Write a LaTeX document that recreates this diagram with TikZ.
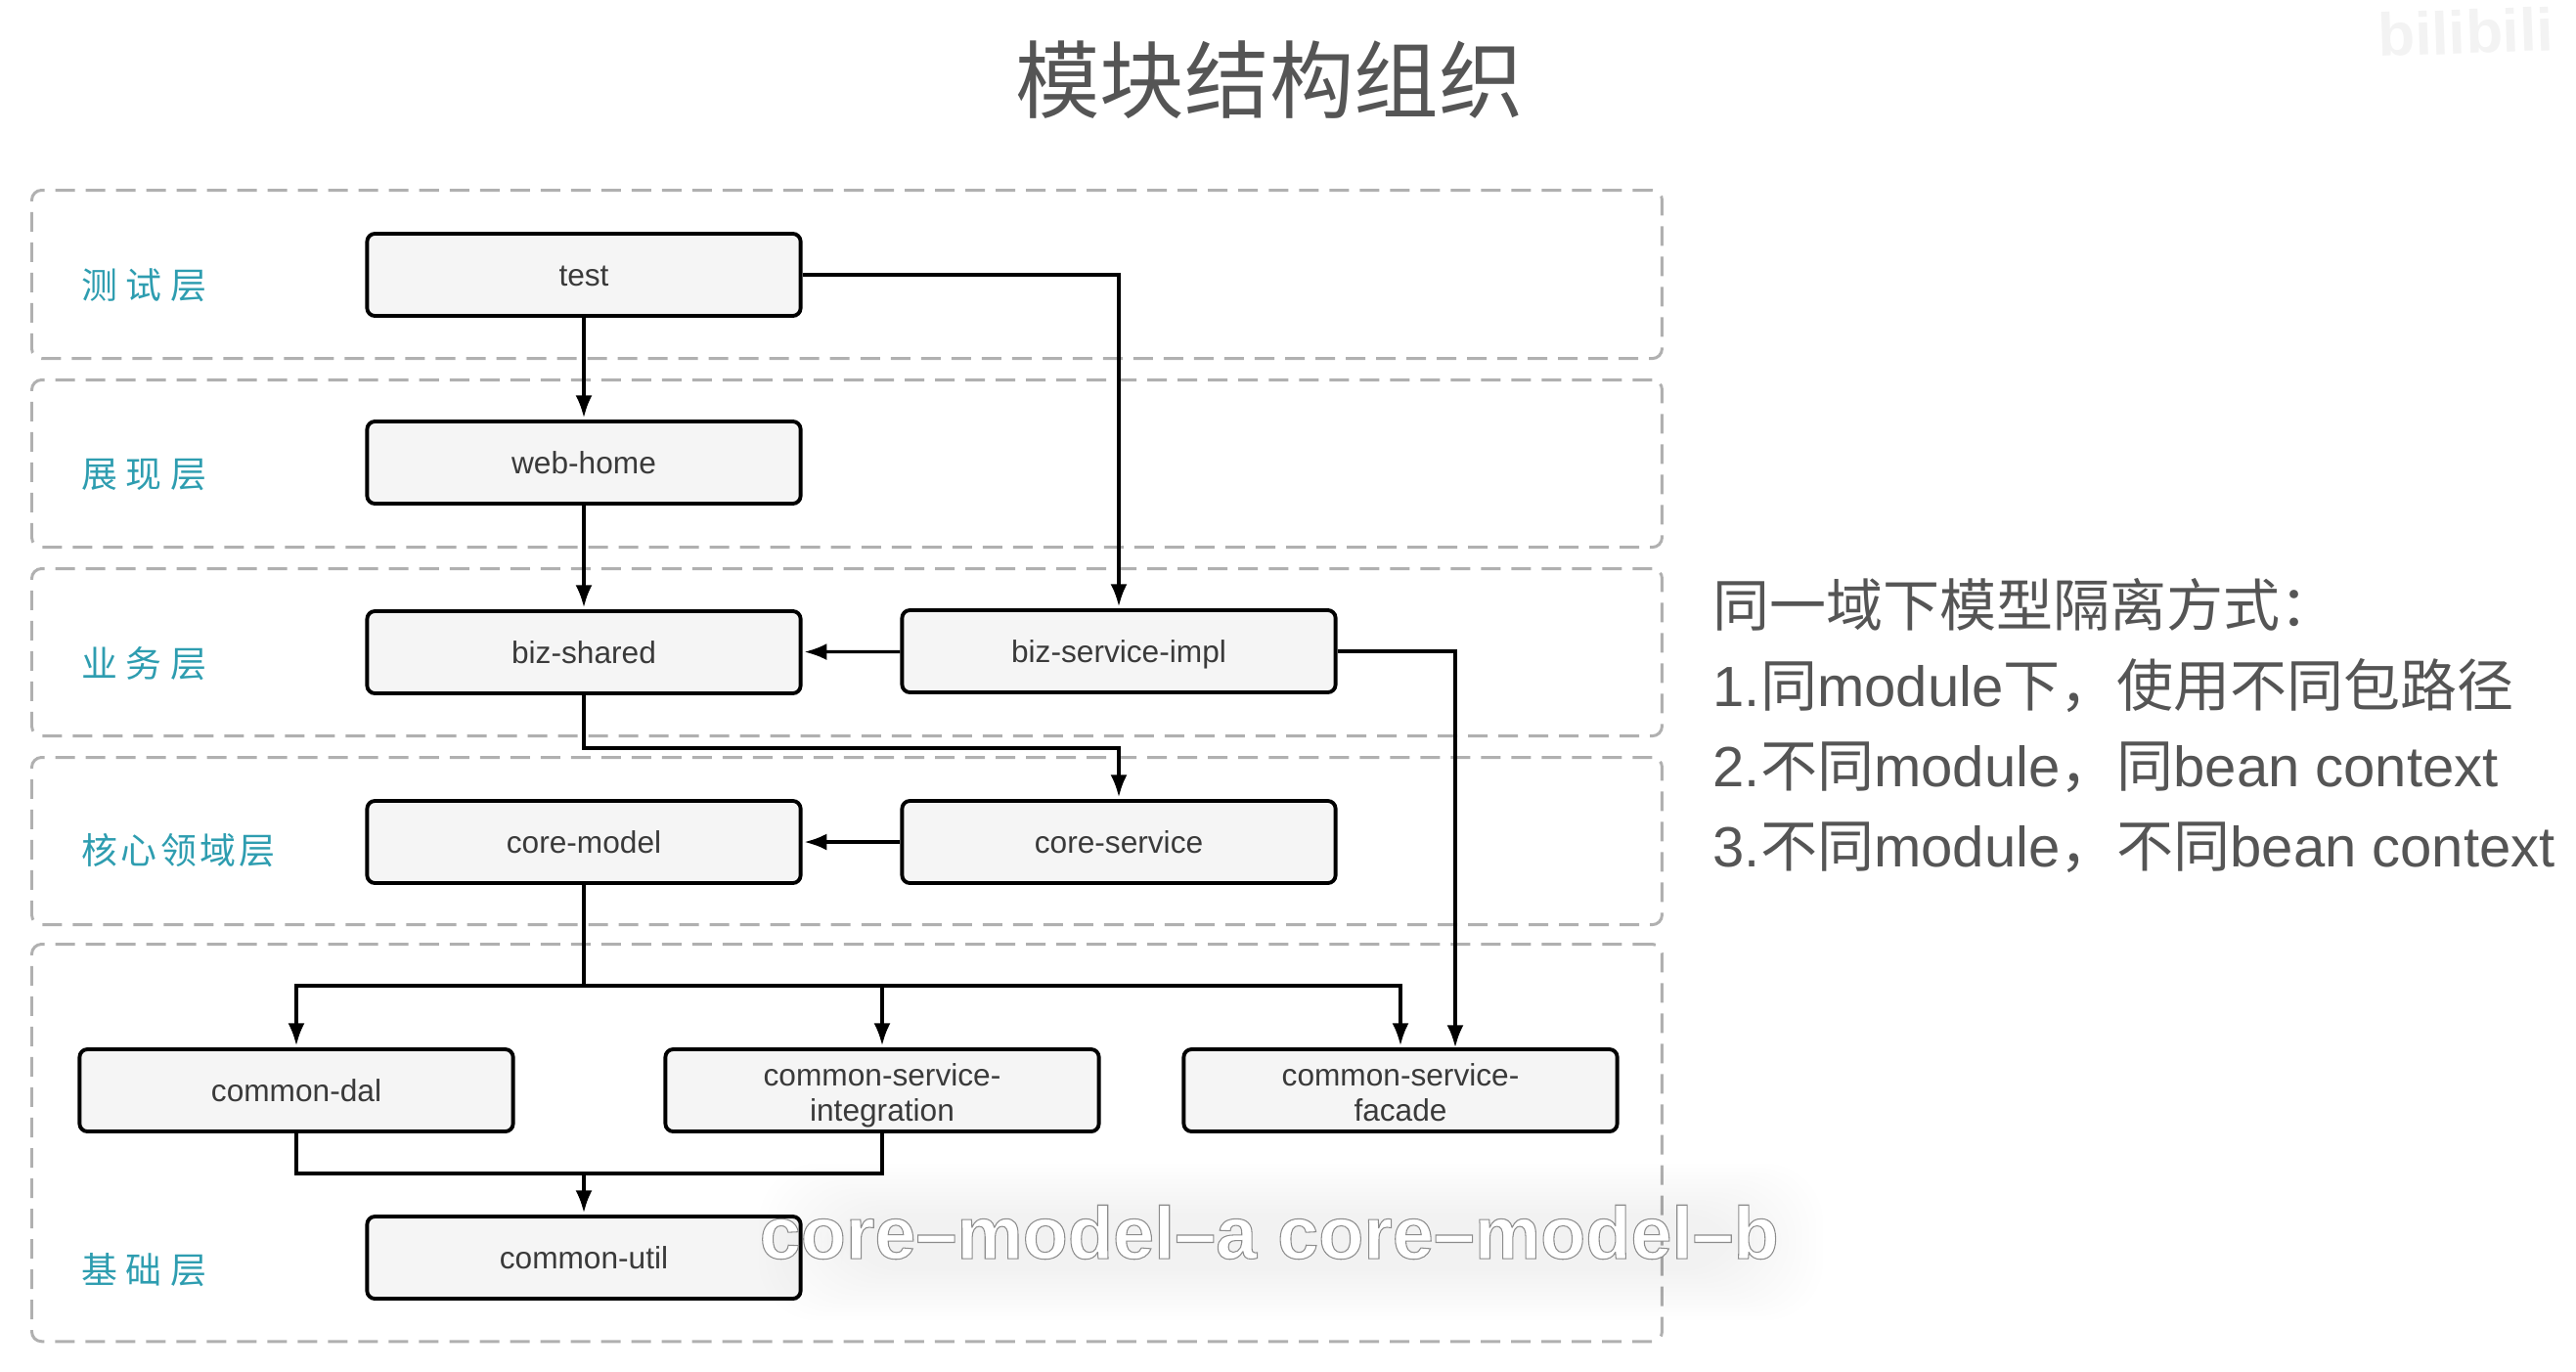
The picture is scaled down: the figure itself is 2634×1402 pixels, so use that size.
\documentclass[tikz,border=0pt]{standalone}
\usepackage{fontspec}
\setmainfont{Liberation Sans}
\newfontfamily\cjk{Noto Sans CJK SC}
\newfontfamily\cjktight[LetterSpace=9]{Noto Sans CJK SC}
\usetikzlibrary{arrows.meta}
\definecolor{layergray}{HTML}{B0B0B0}
\definecolor{layerteal}{HTML}{2E9DB0}
\definecolor{boxfill}{HTML}{F5F5F5}
\definecolor{boxtext}{HTML}{3A3A3A}
\definecolor{slidetext}{HTML}{555555}
\definecolor{markgray}{HTML}{F3F3F3}
\tikzset{
	layerbox/.style={draw=layergray, line width=0.85pt, dash pattern=on 0.2cm off 0.11cm, rounded corners=0.1cm, anchor=north west, inner sep=0pt},
	layername/.style={anchor=west, inner sep=0pt, text=layerteal, font=\cjk\fontsize{10.5}{12}\selectfont},
	modbox/.style={draw=black, line width=1.1pt, fill=boxfill, rounded corners=0.08cm, minimum width=4.43cm, minimum height=0.84cm, inner sep=0pt, text=boxtext, font=\fontsize{9}{10.2}\selectfont},
	modline/.style={modbox, text height=7.5pt, text depth=1pt},
	modpair/.style={modbox, align=center},
	link/.style={draw=black, line width=0.95pt},
	linkto/.style={link, -{Latex[length=0.23cm,width=0.17cm]}, shorten >=0.5pt}
}
\newcommand{\hollowtext}[1]{\special{pdf: code q 2 Tr 0.3 w 0.55 G}#1\special{pdf: code Q}}
\newcommand{\toprow}{\rule{0pt}{9.5pt}}
\newcommand{\lowrow}{\rule[-2pt]{0pt}{0pt}}

\begin{document}
\begin{tikzpicture}[x=0.01cm, y=-0.01cm]
	\useasboundingbox (0,0) rectangle (2634,1402);

	% watermark
	\node[anchor=base west, inner sep=0pt, rotate=2, text=markgray, font=\bfseries\fontsize{17.6}{21}\selectfont] (mark) at (2432,58) {bilibili};

	% title
	\node[inner sep=0pt, text=slidetext, font=\cjk\fontsize{24.6}{28}\selectfont] (title) at (1298,82) {模块结构组织};

	% layers
	\node[layerbox, minimum width=16.66cm, minimum height=1.72cm] (testlayer) at (31,193) {};
	\node[layerbox, minimum width=16.66cm, minimum height=1.71cm] (weblayer) at (31,387) {};
	\node[layerbox, minimum width=16.66cm, minimum height=1.71cm] (bizlayer) at (31,580) {};
	\node[layerbox, minimum width=16.66cm, minimum height=1.71cm] (corelayer) at (31,773) {};
	\node[layerbox, minimum width=16.66cm, minimum height=4.06cm] (baselayer) at (31,964) {};

	\node[layername] (testname) at (83,292) {测 试 层};
	\node[layername] (webname) at (83,486) {展 现 层};
	\node[layername] (bizname) at (83,679) {业 务 层};
	\node[layername, font=\cjktight\fontsize{10.5}{12}\selectfont] (corename) at (83,870) {核心领域层};
	\node[layername] (basename) at (83,1299) {基 础 层};

	% modules
	\node[modline] (test) at (597,281) {test};
	\node[modline] (webhome) at (597,473) {web-home};
	\node[modline] (bizshared) at (597,667) {biz-shared};
	\node[modline] (bizimpl) at (1144,666) {biz-service-impl};
	\node[modline] (coremodel) at (597,861) {core-model};
	\node[modline] (coreservice) at (1144,861) {core-service};
	\node[modline] (commondal) at (303,1115) {common-dal};
	\node[modpair] (commonint) at (902,1115) {\toprow common-service-\\integration\lowrow};
	\node[modpair] (commonfacade) at (1432,1115) {\toprow common-service-\\facade\lowrow};
	\node[modline] (commonutil) at (597,1286) {common-util};

	\coordinate (bizturn) at (597,765);
	\coordinate (branch) at (597,1008);
	\coordinate (merge) at (597,1200);
	\coordinate (facadein) at (1488,1073);

	% connectors
	\draw[linkto] (test) -- (webhome);
	\draw[linkto] (test.east) -| (bizimpl.north);
	\draw[linkto] (webhome) -- (bizshared);
	\draw[linkto] (bizimpl) -- (bizshared);
	\draw[linkto] (bizimpl.east) -| (facadein);
	\draw[linkto] (bizshared.south) -- (bizturn) -| (coreservice.north);
	\draw[linkto] (coreservice) -- (coremodel);
	\draw[link] (coremodel.south) -- (branch);
	\draw[linkto] (branch) -| (commondal.north);
	\draw[linkto] (branch) -| (commonint.north);
	\draw[linkto] (branch) -| (commonfacade.north);
	\draw[link] (commondal.south) |- (merge);
	\draw[link] (commonint.south) |- (merge);
	\draw[linkto] (merge) -- (commonutil.north);

	% side notes
	\node[anchor=north west, inner sep=0pt, align=left, text=slidetext, font=\fontsize{16.5}{23.3}\selectfont] (notes) at (1751,591) {%
		{\cjk 同一域下模型隔离方式：}\\
		1.{\cjk 同}module{\cjk 下，使用不同包路径}\\
		2.{\cjk 不同}module{\cjk ，同}bean context\\
		3.{\cjk 不同}module{\cjk ，不同}bean context};

	% subtitle
	\foreach \grow in {0,7,...,84}
		\fill[black, fill opacity=0.005, rounded corners=0.6cm] (860-\grow,1240-\grow*0.6) rectangle (1780+\grow,1300+\grow*0.6);
	\node[anchor=base west, inner sep=0pt, text=white, font=\bfseries\fontsize{21.5}{24}\selectfont] (subtitle) at (776,1287) {\hollowtext{core–model–a core–model–b}};
\end{tikzpicture}
\end{document}
